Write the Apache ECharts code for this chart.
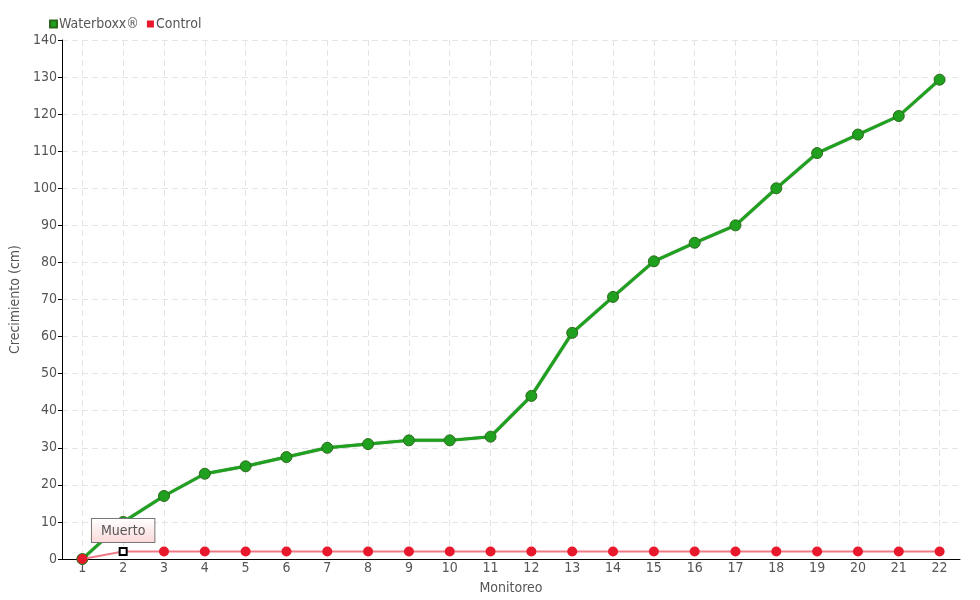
<!DOCTYPE html>
<html>
<head>
<meta charset="utf-8">
<script src="https://cdn.jsdelivr.net/npm/echarts@6/dist/echarts.min.js"></script>
<style>
    html, body { margin: 0; padding: 0; background: #fff; }
    #chart { width: 980px; height: 600px; }
</style>
</head>
<body>
<div id="chart"></div>
<script>
// monitoreo 1..22
var categories = ["1", "2", "3", "4", "5", "6", "7", "8", "9", "10", "11",
    "12", "13", "14", "15", "16", "17", "18", "19", "20", "21", "22"];
var waterboxx = [0, 10, 17, 23, 25, 27.5, 30, 31, 32, 32, 33,
    44, 61, 70.7, 80.3, 85.3, 90, 100, 109.5, 114.5, 119.5, 129.3];
var control = [0, 2, 2, 2, 2, 2, 2, 2, 2, 2, 2,
    2, 2, 2, 2, 2, 2, 2, 2, 2, 2, 2];
var deadIndex = 1;
var deadLabel = "Muerto";

var font = "DejaVu Sans Condensed";
var green = "#1fa01f";
var red = "#e8192c";

var chart = echarts.init(document.getElementById("chart"));

chart.setOption({
    animation: false,
    textStyle: { fontFamily: font, color: "#555" },
    legend: {
        left: 44,
        top: 12,
        itemWidth: 7,
        itemHeight: 7,
        itemGap: 8,
        icon: "rect",
        textStyle: { fontFamily: font, fontSize: 14, color: "#555", padding: [0, 0, 0, -3] },
        data: ["Waterboxx®", "Control"]
    },
    grid: { left: 60, right: 20, top: 40, bottom: 41 },
    xAxis: {
        type: "category",
        data: categories,
        boundaryGap: true,
        name: "Monitoreo",
        nameLocation: "middle",
        nameGap: 22,
        nameTextStyle: { fontFamily: font, fontSize: 14, color: "#555" },
        axisLine: { lineStyle: { color: "#000" } },
        axisTick: { alignWithLabel: true, length: 5, lineStyle: { color: "#000" } },
        axisLabel: { fontFamily: font, fontSize: 14, color: "#555", margin: 2 },
        splitLine: {
            show: true,
            interval: 0,
            alignWithLabel: true,
            lineStyle: { color: "#e4e4e4", type: [6, 4] }
        }
    },
    yAxis: {
        type: "value",
        min: 0,
        max: 140,
        interval: 10,
        name: "Crecimiento (cm)",
        nameLocation: "middle",
        nameGap: 30,
        nameTextStyle: { fontFamily: font, fontSize: 14, color: "#555" },
        axisLine: { show: true, lineStyle: { color: "#000" } },
        axisTick: { show: true, length: 4, lineStyle: { color: "#000" } },
        axisLabel: { fontFamily: font, fontSize: 14, color: "#555", margin: 5 },
        splitLine: { lineStyle: { color: "#e4e4e4", type: [6, 4] } }
    },
    series: [
        {
            name: "Waterboxx®",
            type: "line",
            data: waterboxx,
            color: green,
            symbol: "circle",
            symbolSize: 11,
            itemStyle: { color: green, borderColor: "#2a6a1a", borderWidth: 1 },
            lineStyle: { color: green, width: 3, shadowColor: "rgba(20,90,20,0.7)", shadowBlur: 1 },
            z: 2
        },
        {
            name: "Control",
            type: "line",
            data: control.map(function (v, i) {
                if (i !== deadIndex) {
                    return v;
                }
                return {
                    value: v,
                    symbol: "rect",
                    symbolSize: 7,
                    itemStyle: { color: "#fff", borderColor: "#000", borderWidth: 2 },
                    label: {
                        show: true,
                        position: "top",
                        distance: 5,
                        formatter: deadLabel,
                        fontFamily: font,
                        fontSize: 14,
                        color: "#555",
                        padding: [5, 9, 4, 9],
                        borderColor: "#777",
                        borderWidth: 1,
                        backgroundColor: new echarts.graphic.LinearGradient(0, 0, 0, 1, [
                            { offset: 0, color: "#ffffff" },
                            { offset: 1, color: "#fbd8d8" }
                        ])
                    }
                };
            }),
            color: red,
            symbol: "circle",
            symbolSize: 10,
            itemStyle: { color: red },
            lineStyle: { color: "#f07a85", width: 2 },
            z: 3
        }
    ]
});
</script>
</body>
</html>
